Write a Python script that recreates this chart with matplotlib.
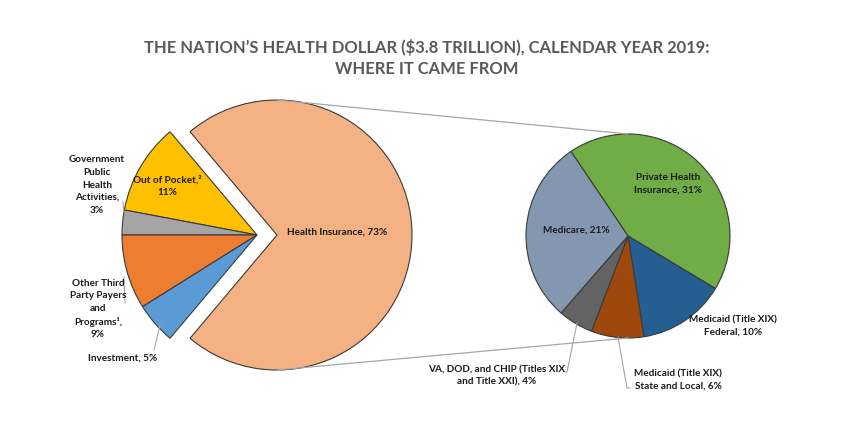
import matplotlib
matplotlib.use("Agg")
import matplotlib.pyplot as plt

# Where the health dollar came from, 2019 (percent)
left_labels = ["Health Insurance", "Out of Pocket", "Government Public Health Activities",
               "Other Third Party Payers and Programs", "Investment"]
left_values = [73, 11, 3, 9, 5]
left_colors = ["#F4B183", "#FFC000", "#A5A5A5", "#ED7D31", "#5B9BD5"]

right_labels = ["Private Health Insurance", "Medicaid (Title XIX) Federal",
                "Medicaid (Title XIX) State and Local",
                "VA, DOD, and CHIP (Titles XIX and Title XXI)", "Medicare"]
right_values = [31, 10, 6, 4, 21]
right_colors = ["#70AD47", "#255E91", "#9E480E", "#636363", "#8497B0"]

plt.rcParams['font.family'] = ['Lato', 'DejaVu Sans']

W, H = 850, 425


def Y(py):
    # pixel row (from top) -> data y
    return H - py


fig = plt.figure(figsize=(8.5, 4.25), dpi=100)
ax = fig.add_axes([0, 0, 1, 1])

edge = dict(edgecolor="#3a3a3a", linewidth=0.8)

# left pie: small slices share one vertex, health insurance pulled to the right
lc = (257, Y(235))
lr = 135
start = -180.0 * left_values[0] / sum(left_values)
lw, _ = ax.pie(left_values, colors=left_colors, startangle=start, center=lc,
               radius=lr, wedgeprops=edge)
hi_center = (lc[0] + 20, lc[1])
lw[0].set_center(hi_center)

# right pie: breakdown of health insurance
rc = (628, Y(236))
rr = 102
ax.pie(right_values, colors=right_colors, startangle=124, counterclock=False,
       center=rc, radius=rr, wedgeprops=edge)

# connector lines
ax.plot([hi_center[0], rc[0]], [hi_center[1] + lr, rc[1] + rr], color="#a6a6a6", lw=0.9)
ax.plot([hi_center[0], rc[0]], [hi_center[1] - lr, rc[1] - rr], color="#a6a6a6", lw=0.9)

ax.set_xlim(0, W)
ax.set_ylim(0, H)
ax.set_aspect("auto")
ax.axis("off")

# title
ax.text(427, Y(58), "THE NATION\u2019S HEALTH DOLLAR ($3.8 TRILLION), CALENDAR YEAR 2019:\nWHERE IT CAME FROM",
        ha="center", va="center", fontsize=11.9, fontweight="bold", color="#595959",
        linespacing=1.45)

lab = dict(ha="center", va="center", fontsize=7.2, fontweight="bold", color="#1a1a1a",
           linespacing=1.5)

ax.text(337, Y(232), "Health Insurance, 73%", **lab)
ax.text(167, Y(186), "Out of Pocket,\u00b2\n11%", **lab)
ax.text(97, Y(185), "Government\nPublic\nHealth\nActivities,\n3%", **lab)
ax.text(98, Y(309), "Other Third\nParty Payers\nand\nPrograms\u00b9,\n9%", **lab)
ax.text(123, Y(358), "Investment, 5%", **lab)

ax.text(668, Y(184), "Private Health\nInsurance, 31%", **lab)
ax.text(576, Y(230), "Medicare, 21%", **lab)
ax.text(733, Y(326), "Medicaid (Title XIX)\nFederal, 10%", **lab)
ax.text(497, Y(376), "VA, DOD, and CHIP (Titles XIX\nand Title XXI), 4%", **lab)
ax.text(678, Y(380), "Medicaid (Title XIX)\nState and Local, 6%", **lab)

# leader lines
lead = dict(color="#a6a6a6", lw=0.8)
ax.plot([123, 124], [Y(202), Y(213)], **lead)
ax.plot([124, 125], [Y(277), Y(303)], **lead)
ax.plot([154, 160], [Y(350), Y(325)], **lead)
ax.plot([565, 567, 577], [Y(372), Y(372), Y(323)], **lead)
ax.plot([618, 627, 630], [Y(337), Y(388), Y(388)], **lead)

fig.savefig("out.png", dpi=100)
